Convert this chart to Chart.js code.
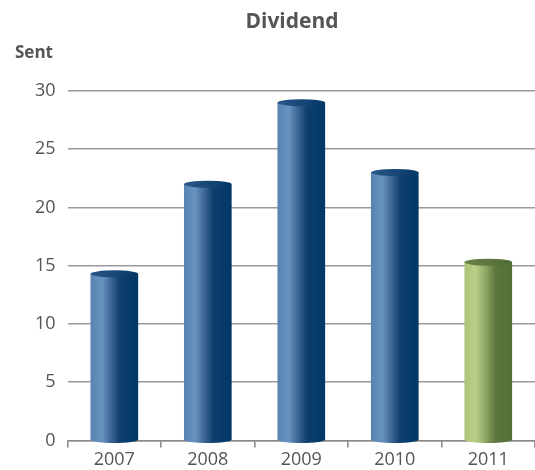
<!DOCTYPE html>
<html>
<head>
    <meta charset="UTF-8">
    <title>Dividend</title>
    <script src="https://cdn.jsdelivr.net/npm/chart.js@4.4.1/dist/chart.umd.min.js"></script>
    <style>
        * { margin: 0; padding: 0; box-sizing: border-box; }
        body { width: 535px; height: 470px; background: #fff; overflow: hidden; }
        canvas { display: block; }
    </style>
</head>
<body>
    <canvas id="chart" width="535" height="473"></canvas>
    <script>
        const years = ['2007', '2008', '2009', '2010', '2011'];
        const dividend = [14.3, 22, 29, 23, 15.3];
        const yTicks = [0, 5, 10, 15, 20, 25, 30];

        const chartTitle = 'Dividend';
        const unitLabel = 'Sent';
        const highlightYear = '2011';

        const textColor = '#555555';
        const fontFamily = '"Open Sans", "Noto Sans", sans-serif';

        // colour ramps for the cylinder bodies (left -> right)
        const blueRamp = [[0, '#5883b1'], [0.24, '#6993bf'], [0.42, '#3f6896'], [0.62, '#0d3e6e'], [1, '#003866']];
        const greenRamp = [[0, '#adc37a'], [0.24, '#b9ce87'], [0.45, '#8ca663'], [0.65, '#5c763f'], [1, '#556f38']];

        function ramp(ctx, x0, x1, stops) {
            const g = ctx.createLinearGradient(x0, 0, x1, 0);
            stops.forEach(s => g.addColorStop(s[0], s[1]));
            return g;
        }

        // draws each bar as a cylinder using the bar element geometry
        const cylinders = {
            id: 'cylinders',
            afterDatasetsDraw(chart) {
                const ctx = chart.ctx;
                const meta = chart.getDatasetMeta(0);
                meta.data.forEach((bar, i) => {
                    const { x, y, base, width } = bar.getProps(['x', 'y', 'base', 'width'], true);
                    const rx = width / 2;
                    const ry = 3.5;
                    const left = x - rx, right = x + rx;
                    const green = years[i] === highlightYear;
                    const body = ramp(ctx, left, right, green ? greenRamp : blueRamp);

                    ctx.save();
                    ctx.fillStyle = body;
                    ctx.beginPath();
                    ctx.moveTo(left, y);
                    ctx.lineTo(left, base);
                    ctx.ellipse(x, base, rx, ry, 0, Math.PI, 0, true);
                    ctx.lineTo(right, y);
                    ctx.closePath();
                    ctx.fill();

                    ctx.fillStyle = green
                        ? ramp(ctx, left, right, [[0, '#6a8549'], [1, '#4f6934']])
                        : ramp(ctx, left, right, [[0, '#2a5788'], [1, '#053866']]);
                    ctx.beginPath();
                    ctx.ellipse(x, y, rx, ry, 0, 0, Math.PI * 2);
                    ctx.fill();
                    ctx.restore();
                });
            }
        };

        const headings = {
            id: 'headings',
            afterDraw(chart) {
                const ctx = chart.ctx;
                ctx.save();
                ctx.fillStyle = textColor;
                ctx.textBaseline = 'middle';
                ctx.font = 'bold 21px ' + fontFamily;
                ctx.textAlign = 'center';
                ctx.fillText(chartTitle, 292, 22);
                ctx.font = 'bold 17px ' + fontFamily;
                ctx.textAlign = 'left';
                ctx.fillText(unitLabel, 15, 53);
                ctx.restore();
            }
        };

        new Chart(document.getElementById('chart'), {
            type: 'bar',
            data: {
                labels: years,
                datasets: [{
                    data: dividend,
                    backgroundColor: 'rgba(0,0,0,0)',
                    categoryPercentage: 1,
                    barPercentage: 0.51
                }]
            },
            options: {
                responsive: false,
                animation: false,
                layout: { padding: { top: 91, left: 23, right: 0, bottom: 0 } },
                plugins: {
                    legend: { display: false },
                    tooltip: { enabled: false },
                    title: { display: false }
                },
                scales: {
                    y: {
                        min: 0,
                        max: 30,
                        afterBuildTicks(axis) { axis.ticks = yTicks.map(v => ({ value: v })); },
                        border: { display: false },
                        grid: { color: '#9a9a9a', lineWidth: 1.6, drawTicks: false },
                        ticks: { color: textColor, font: { family: fontFamily, size: 18 }, padding: 12 }
                    },
                    x: {
                        border: { display: true, color: '#8a8a8a', width: 1.6 },
                        grid: { drawOnChartArea: false, drawTicks: true, tickLength: 7, color: '#8a8a8a', lineWidth: 1.6, offset: true },
                        ticks: { color: textColor, font: { family: fontFamily, size: 18 }, padding: 2 }
                    }
                }
            },
            plugins: [cylinders, headings]
        });
    </script>
</body>
</html>
